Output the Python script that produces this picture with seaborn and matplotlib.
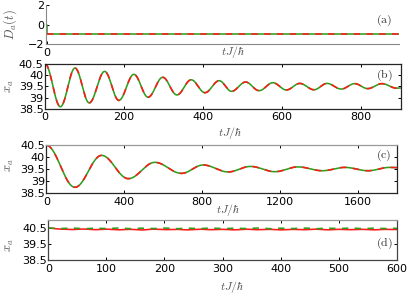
import numpy as np
import matplotlib
matplotlib.use("Agg")
import matplotlib.pyplot as plt
import seaborn as sns

# panel (a): D_a(t) step
a_t = [-3, 1, 1, 900]
a_d = [0, 0, -1, -1]

# panel (b): extrema of x_a(t)
b_t = [0, 39, 76, 112, 151, 187, 225, 261, 298, 334, 370, 405, 441, 472, 508,
       542, 577, 611, 645, 681, 714, 750, 784, 817, 853, 890, 900]
b_x = [40.5, 38.6, 40.31, 38.77, 40.16, 38.88, 40.03, 39.02, 39.9, 39.12, 39.79,
       39.22, 39.75, 39.28, 39.69, 39.31, 39.66, 39.34, 39.63, 39.35, 39.63,
       39.38, 39.62, 39.4, 39.62, 39.42, 39.43]

# panel (c)
c_t = [0, 147, 284, 421, 557, 694, 805, 933, 1048, 1173, 1292, 1417, 1532,
       1651, 1762, 1800]
c_x = [40.5, 38.75, 40.08, 39.11, 39.79, 39.33, 39.68, 39.39, 39.62, 39.4,
       39.6, 39.44, 39.58, 39.44, 39.58, 39.57]

# panel (d)
d_t = list(range(0, 601, 20))
d_red = [40.50, 40.44, 40.41, 40.44, 40.40, 40.43, 40.39, 40.42, 40.38, 40.43,
         40.40, 40.42, 40.39, 40.43, 40.40, 40.42, 40.39, 40.43, 40.40, 40.42,
         40.39, 40.42, 40.40, 40.43, 40.39, 40.42, 40.40, 40.42, 40.39, 40.42, 40.41]
d_green = [40.50, 40.47, 40.50, 40.46, 40.49, 40.47, 40.50, 40.46, 40.49, 40.47,
           40.50, 40.46, 40.49, 40.47, 40.50, 40.46, 40.49, 40.47, 40.50, 40.46,
           40.49, 40.47, 40.50, 40.46, 40.49, 40.47, 40.50, 40.46, 40.49, 40.47, 40.49]

RED = '#ff1a1a'
GREEN = '#2e9e1e'


def smooth(t, v, n=30):
    # draw a smooth half-wave between neighbouring read points
    xs, ys = [], []
    for i in range(len(t) - 1):
        s = np.linspace(0, 1, n, endpoint=False)
        xs.append(t[i] + (t[i + 1] - t[i]) * s)
        ys.append(v[i] + (v[i + 1] - v[i]) * (1 - np.cos(np.pi * s)) / 2)
    xs.append([t[-1]])
    ys.append([v[-1]])
    return np.concatenate(xs), np.concatenate(ys)


sns.set_style("ticks")
plt.rcParams['font.family'] = ['DejaVu Sans']
plt.rcParams['mathtext.fontset'] = 'cm'
plt.rcParams['xtick.direction'] = 'in'
plt.rcParams['ytick.direction'] = 'in'

fig = plt.figure(figsize=(4.09, 2.96), dpi=100)
W, H = 409, 296


def add_ax(l, r, top, bot):
    return fig.add_axes([l / W, 1 - bot / H, (r - l) / W, (bot - top) / H])


ax_a = add_ax(45.7, 399, 5, 44.3)
ax_b = add_ax(45, 400.5, 63.7, 109)
ax_c = add_ax(46.3, 397, 145.3, 193.3)
ax_d = add_ax(48.3, 396.7, 220, 260.3)

dash = (0, (4.0, 4.0))
LW = 1.15

# (a)
sns.lineplot(x=a_t, y=a_d, ax=ax_a, color=GREEN, lw=LW, sort=False, estimator=None)
sns.lineplot(x=a_t[2:], y=a_d[2:], ax=ax_a, color=RED, lw=LW, linestyle=dash,
             sort=False, estimator=None)
ax_a.set_xlim(-3, 900)
ax_a.set_ylim(-2, 2)
ax_a.set_xticks([0])
ax_a.set_yticks([-2, 0, 2])
for s in ['top', 'right']:
    ax_a.spines[s].set_visible(False)
for s in ['left', 'bottom']:
    ax_a.spines[s].set_color('#888888')

# (b)
xb, yb = smooth(b_t, b_x)
sns.lineplot(x=xb, y=yb, ax=ax_b, color=GREEN, lw=LW, sort=False, estimator=None)
sns.lineplot(x=xb, y=yb, ax=ax_b, color=RED, lw=LW, linestyle=dash, sort=False, estimator=None)
ax_b.set_xlim(0, 900)
ax_b.set_ylim(38.5, 40.5)
ax_b.set_xticks([0, 200, 400, 600, 800])
ax_b.set_yticks([38.5, 39, 39.5, 40, 40.5])
ax_b.set_yticklabels(['38.5', '39', '39.5', '40', '40.5'])

# (c)
xc, yc = smooth(c_t, c_x)
sns.lineplot(x=xc, y=yc, ax=ax_c, color=GREEN, lw=LW, sort=False, estimator=None)
sns.lineplot(x=xc, y=yc, ax=ax_c, color=RED, lw=LW, linestyle=dash, sort=False, estimator=None)
ax_c.set_xlim(0, 1800)
ax_c.set_ylim(38.5, 40.5)
ax_c.set_xticks([0, 400, 800, 1200, 1600])
ax_c.set_yticks([38.5, 39, 39.5, 40, 40.5])
ax_c.set_yticklabels(['38.5', '39', '39.5', '40', '40.5'])
ax_c.spines['top'].set_color('#999999')

# (d)
xr, yr = smooth(d_t, d_red)
xg, yg = smooth(d_t, d_green)
sns.lineplot(x=xr, y=yr, ax=ax_d, color=RED, lw=LW, sort=False, estimator=None)
sns.lineplot(x=xg, y=yg, ax=ax_d, color=GREEN, lw=LW, linestyle=dash, sort=False, estimator=None)
ax_d.set_xlim(0, 600)
ax_d.set_ylim(38.5, 41)
ax_d.set_xticks([0, 100, 200, 300, 400, 500, 600])
ax_d.set_yticks([38.5, 39.5, 40.5])
for s in ['left', 'bottom', 'right']:
    ax_d.spines[s].set_color('#444444')
ax_d.spines['top'].set_color('#999999')

for ax in [ax_b, ax_c, ax_d]:
    for s in ['left', 'bottom', 'right', 'top']:
        ax.spines[s].set_linewidth(0.9)
for ax in [ax_a, ax_b, ax_c, ax_d]:
    ax.tick_params(axis='both', which='both', length=2.5, width=0.7,
                   labelsize=8, colors='black')
    ax.tick_params(axis='y', pad=1)
    ax.tick_params(axis='x', pad=2.5)
    ax.set_ylabel('')
    ax.set_xlabel(r'$tJ/\hbar$', fontsize=8.5, color='#555555')
    ax.xaxis.label.set_va('center')
ax_a.tick_params(axis='both', top=False, right=False)
for ax in [ax_b, ax_c, ax_d]:
    ax.tick_params(axis='both', top=True, right=True)

ax_a.xaxis.set_label_coords(0.53, -0.196)
ax_b.xaxis.set_label_coords(0.52, -0.53)
ax_c.xaxis.set_label_coords(0.518, -0.35)
ax_d.xaxis.set_label_coords(0.527, -0.66)

# y labels and panel tags
fig.text(10 / W, 1 - 25 / H, r'$D_a(t)$', rotation=90, ha='center', va='center',
         fontsize=9, color='#555555')
for yy in [86, 165, 245]:
    fig.text(10 / W, 1 - yy / H, r'$x_a$', rotation=90, ha='center', va='center',
             fontsize=9, color='#555555')
for tag, yy in [('(a)', 20.5), ('(b)', 75.7), ('(c)', 155), ('(d)', 243)]:
    fig.text(384 / W, 1 - yy / H, r'$\mathrm{' + tag + '}$', ha='center', va='center',
             fontsize=8.5, color='#333333')

fig.savefig('out.png', dpi=100)
